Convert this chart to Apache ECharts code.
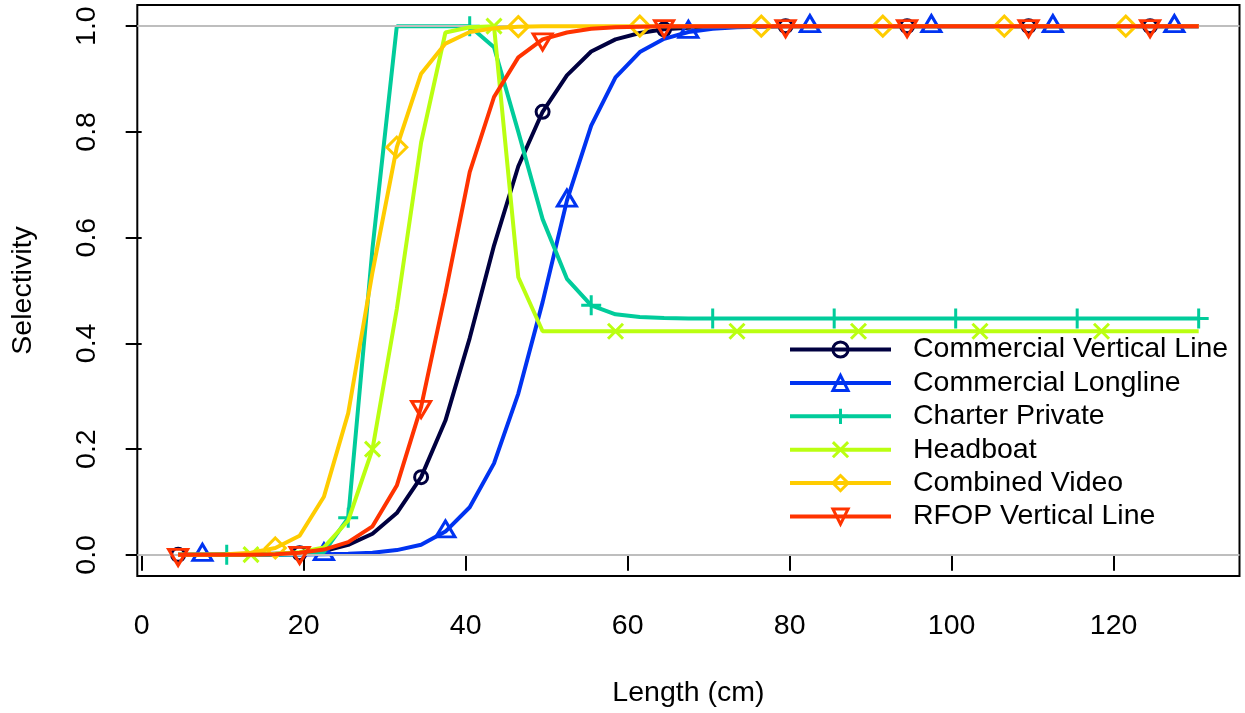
<!DOCTYPE html>
<html><head><meta charset="utf-8">
<script src="https://cdn.jsdelivr.net/npm/echarts@6/dist/echarts.min.js"></script>
<style>html,body{margin:0;padding:0;background:#fff}#c{width:1245px;height:713px}</style>
</head><body><div id="c"></div>
<script>
// ---------- data ----------
const lengthCm = [4.5,7.5,10.5,13.5,16.5,19.5,22.5,25.5,28.5,31.5,34.5,37.5,40.5,43.5,46.5,49.5,52.5,55.5,58.5,61.5,64.5,67.5,70.5,73.5,76.5,79.5,82.5,85.5,88.5,91.5,94.5,97.5,100.5,103.5,106.5,109.5,112.5,115.5,118.5,121.5,124.5,127.5,130.5];
const seriesNames = ['Commercial Vertical Line','Commercial Longline','Charter Private','Headboat','Combined Video','RFOP Vertical Line'];
const commercialVerticalLine = [0,0,0.001,0.001,0.002,0.003,0.007,0.019,0.04,0.079,0.147,0.254,0.41,0.585,0.735,0.838,0.907,0.952,0.975,0.987,0.994,0.997,0.999,1,1,1,1,1,1,1,1,1,1,1,1,1,1,1,1,1,1,1,1];
const commercialLongline = [0,0,0,0,0,0.0005,0.001,0.002,0.004,0.009,0.019,0.044,0.09,0.173,0.305,0.478,0.67,0.812,0.903,0.951,0.976,0.989,0.995,0.998,0.999,1,1,1,1,1,1,1,1,1,1,1,1,1,1,1,1,1,1];
const charterPrivate = [0,0,0,0,0,0.001,0.005,0.07,0.58,1,1,1,1,0.96,0.8,0.635,0.522,0.472,0.455,0.45,0.448,0.447,0.447,0.447,0.447,0.447,0.447,0.447,0.447,0.447,0.447,0.447,0.447,0.447,0.447,0.447,0.447,0.447,0.447,0.447,0.447,0.447,0.447];
const headboat = [0,0,0,0.0005,0.002,0.005,0.014,0.065,0.2,0.465,0.78,0.988,0.998,1,0.525,0.423,0.423,0.423,0.423,0.423,0.423,0.423,0.423,0.423,0.423,0.423,0.423,0.423,0.423,0.423,0.423,0.423,0.423,0.423,0.423,0.423,0.423,0.423,0.423,0.423,0.423,0.423,0.423];
const combinedVideo = [0,0,0.001,0.004,0.013,0.036,0.11,0.268,0.535,0.771,0.91,0.967,0.989,0.996,0.999,1,1,1,1,1,1,1,1,1,1,1,1,1,1,1,1,1,1,1,1,1,1,1,1,1,1,1,1];
const rfopVerticalLine = [0,0,0,0,0.001,0.004,0.01,0.024,0.054,0.131,0.28,0.495,0.724,0.866,0.941,0.975,0.988,0.995,0.998,0.999,1,1,1,1,1,1,1,1,1,1,1,1,1,1,1,1,1,1,1,1,1,1,1];
const xTicks = [0,20,40,60,80,100,120];
const yTicks = [0,0.2,0.4,0.6,0.8,1.0];
const refLines = [0,1];
const markerStart = [0,1,2,3,4,0];

// ---------- style ----------
const allValues = [commercialVerticalLine,commercialLongline,charterPrivate,headboat,combinedVideo,rfopVerticalLine];
const colors = ['#000040','#0033F1','#01CC9B','#BAFF11','#FFCC00','#FF3300'];
const symbols = ['circle','triangle','path://M10,0L10,20M0,10L20,10','path://M0,0L20,20M20,0L0,20','diamond','path://M0,0L20,0L10,17.32Z'];
const sizes = [13,[19,16],20,15,20,[19,16]];
const offsets = [[0,0],[0,-2.6],[0,0],[0,0],[0,0],[0,2.6]];
const FONT = '"Liberation Sans", Arial, sans-serif';
const FS = 28.5;
const LW = 4;
const MW = 3;

const xr = Math.max(...lengthCm) - Math.min(...lengthCm);
const xMin = Math.min(...lengthCm) - 0.04 * xr;
const xMax = Math.max(...lengthCm) + 0.04 * xr;
const yMin = -0.04, yMax = 1.04;

const series = [{
  type: 'line', data: [], z: 1, silent: true, animation: false,
  markLine: {
    silent: true, symbol: ['none','none'], label: {show: false},
    lineStyle: {color: '#BEBEBE', width: 2, type: 'solid'},
    data: refLines.map(v => ({yAxis: v})),
    animation: false
  }
}];
allValues.forEach((vals, i) => {
  series.push({
    type: 'line', name: seriesNames[i], z: 2 + i,
    data: vals.map((v, j) => {
      const item = {value: [lengthCm[j], v]};
      if (j < markerStart[i] || (j - markerStart[i]) % 5 !== 0) item.symbol = 'none';
      return item;
    }),
    symbol: symbols[i], symbolSize: sizes[i], symbolOffset: offsets[i],
    showSymbol: true, showAllSymbol: true,
    lineStyle: {color: colors[i], width: LW},
    itemStyle: {color: 'rgba(0,0,0,0)', borderColor: colors[i], borderWidth: MW},
    emphasis: {disabled: true},
    animation: false
  });
});

const chart = echarts.init(document.getElementById('c'), null, {renderer: 'canvas'});
chart.setOption({
  animation: false,
  backgroundColor: '#fff',
  textStyle: {fontFamily: FONT},
  grid: {left: 137.3, right: 5.5, top: 5, bottom: 137, show: true, borderColor: '#000', borderWidth: 2, backgroundColor: 'transparent'},
  xAxis: {
    type: 'value', min: xMin, max: xMax,
    name: 'Length (cm)', nameLocation: 'middle', nameGap: 103,
    nameTextStyle: {fontSize: FS, color: '#000', fontFamily: FONT},
    axisLine: {show: false},
    axisTick: {show: true, length: 16, lineStyle: {color: '#000', width: 2}, customValues: xTicks},
    axisLabel: {customValues: xTicks, fontSize: FS, color: '#000', fontFamily: FONT, margin: 36, formatter: v => String(v)},
    splitLine: {show: false}
  },
  yAxis: {
    type: 'value', min: yMin, max: yMax,
    name: 'Selectivity', nameLocation: 'middle', nameGap: 100, nameRotate: 90,
    nameTextStyle: {fontSize: FS, color: '#000', fontFamily: FONT},
    axisLine: {show: false},
    axisTick: {show: true, length: 16, lineStyle: {color: '#000', width: 2}, customValues: yTicks},
    axisLabel: {customValues: yTicks, rotate: 90, fontSize: FS, color: '#000', fontFamily: FONT, margin: 36, formatter: v => v.toFixed(1)},
    splitLine: {show: false}
  },
  legend: {
    orient: 'vertical', left: 783, top: 330, itemWidth: 101, itemHeight: 19, itemGap: 4.4,
    selectedMode: false,
    textStyle: {fontSize: FS, color: '#000', fontFamily: FONT, lineHeight: 28, padding: [0,0,0,17]},
    data: seriesNames.map((n, i) => ({
      name: n,
      itemStyle: {color: 'rgba(0,0,0,0)', borderColor: colors[i], borderWidth: MW},
      lineStyle: {color: colors[i], width: LW}
    }))
  },
  series: series
});
</script>
</body></html>
